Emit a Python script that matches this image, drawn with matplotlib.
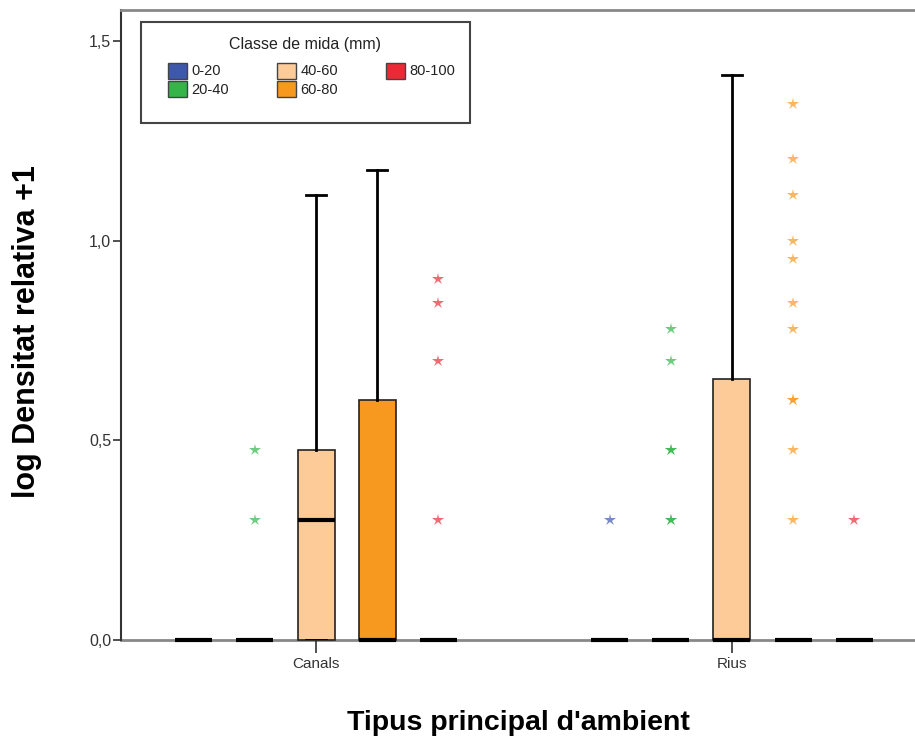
import matplotlib
matplotlib.use("Agg")
import matplotlib.pyplot as plt
from matplotlib.patches import Patch
from matplotlib.offsetbox import DrawingArea

plt.rcParams['font.family'] = ['Liberation Sans', 'DejaVu Sans']

ambients = ['Canals', 'Rius']
classes = ['0-20', '20-40', '40-60', '60-80', '80-100']
colors = ['#3E58AC', '#34B449', '#FDCB98', '#F7991F', '#EC2A35']

# box statistics per ambient, one entry per size class (log10 values)
q1 = [[0, 0, 0, 0, 0],
      [0, 0, 0, 0, 0]]
med = [[0, 0, 0.301, 0, 0],
       [0, 0, 0, 0, 0]]
q3 = [[0, 0, 0.477, 0.602, 0],
      [0, 0, 0.653, 0, 0]]
whis_hi = [[0, 0, 1.114, 1.176, 0],
           [0, 0, 1.415, 0, 0]]

# extreme values (repeated values are drawn on top of each other)
extremes = [
    [[],
     [0.477, 0.301],
     [],
     [],
     [0.903, 0.845, 0.699, 0.301]],
    [[0.301],
     [0.778, 0.699, 0.477, 0.477, 0.301, 0.301],
     [],
     [1.342, 1.204, 1.114, 1.0, 0.954, 0.845, 0.778, 0.602, 0.602,
      0.477, 0.301],
     [0.301]],
]

fig = plt.figure(figsize=(9.15, 7.4), dpi=100)
ax = fig.add_axes([0.1322, 0.1351, 0.8678, 0.8514])

step = 0.147
width = 0.089
for gi, amb in enumerate(ambients):
    for ci, cls in enumerate(classes):
        x = gi + 1 + (ci - 2) * step
        stats = [dict(q1=q1[gi][ci], med=med[gi][ci], q3=q3[gi][ci],
                      whislo=q1[gi][ci], whishi=whis_hi[gi][ci], fliers=[])]
        has_box = q3[gi][ci] > 0
        parts = ax.bxp(stats, positions=[x], widths=width, patch_artist=True,
                       showfliers=False, showcaps=has_box, capwidths=0.048,
                       boxprops=dict(facecolor=colors[ci], edgecolor='#222222',
                                     linewidth=1.2),
                       medianprops=dict(color='black', linewidth=3),
                       whiskerprops=dict(color='black', linewidth=2),
                       capprops=dict(color='black', linewidth=2),
                       manage_ticks=False, zorder=3)
        # zero-height boxes sit on the axis line, keep them unclipped
        for key in ('boxes', 'medians'):
            for art in parts[key]:
                art.set_clip_on(False)
        vals = extremes[gi][ci]
        if vals:
            ax.plot([x] * len(vals), vals, linestyle='none', marker='*',
                    markersize=9, color=colors[ci], alpha=0.7,
                    markeredgewidth=0, zorder=4)

ax.set_xlim(0.531, 2.44)
ax.set_ylim(0, 1.578)
ax.set_xticks([1, 2])
ax.set_xticklabels(ambients)
ax.set_yticks([0, 0.5, 1.0, 1.5])
ax.set_yticklabels(['0,0', '0,5', '1,0', '1,5'])
ax.tick_params(axis='y', length=6, width=1.2, color='#333333',
               labelsize=11.5, labelcolor='#333333', pad=1)
ax.tick_params(axis='x', length=9, width=1.2, color='#333333',
               labelsize=11, labelcolor='#333333', pad=3)

ax.spines['right'].set_visible(False)
ax.spines['left'].set_color('#333333')
ax.spines['left'].set_linewidth(1.5)
ax.spines['top'].set_color('#888888')
ax.spines['top'].set_linewidth(2)
ax.spines['bottom'].set_color('#888888')
ax.spines['bottom'].set_linewidth(2)
ax.spines['bottom'].set_zorder(1)

ax.set_ylabel('log Densitat relativa +1', fontsize=22, fontweight='bold')
ax.yaxis.set_label_coords(-0.099, 0.489)
ax.set_xlabel("Tipus principal d'ambient", fontsize=20.5, fontweight='bold',
              labelpad=28)

handles = [Patch(facecolor=c, edgecolor='#444444', linewidth=1) for c in colors]
leg = ax.legend(handles, classes, title='Classe de mida (mm)', ncol=3,
                loc='upper left', bbox_to_anchor=(0.025, 0.981),
                borderaxespad=0,
                fontsize=10.5, title_fontsize=11.5, frameon=True,
                fancybox=False, edgecolor='#444444', framealpha=1,
                handlelength=1.3, handleheight=1.3, handletextpad=0.3,
                columnspacing=3.3, labelspacing=0.2, borderpad=1.0)
# more room under the title and an empty strip below the entries
leg._legend_box.sep = 8
leg._legend_box._children.append(DrawingArea(0, 0))
# indent the first column a little
for row in leg._legend_handle_box._children[0]._children:
    row._children.insert(0, DrawingArea(6, 0))
leg.get_frame().set_linewidth(1.5)
leg.get_title().set_color('#222222')
for t in leg.get_texts():
    t.set_color('#222222')

fig.savefig('out.png', dpi=100)
